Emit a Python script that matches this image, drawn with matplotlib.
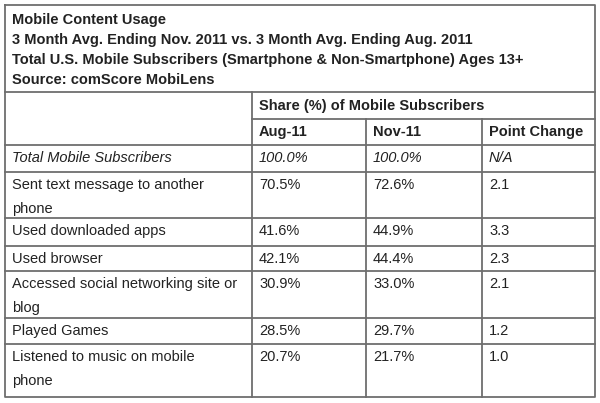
import matplotlib
matplotlib.use("Agg")
import matplotlib.pyplot as plt

title_lines = ["Mobile Content Usage",
               "3 Month Avg. Ending Nov. 2011 vs. 3 Month Avg. Ending Aug. 2011",
               "Total U.S. Mobile Subscribers (Smartphone & Non-Smartphone) Ages 13+",
               "Source: comScore MobiLens"]
group_header = "Share (%) of Mobile Subscribers"
col_headers = ["Aug-11", "Nov-11", "Point Change"]
categories = ["Total Mobile Subscribers", "Sent text message to another\nphone",
              "Used downloaded apps", "Used browser",
              "Accessed social networking site or\nblog", "Played Games",
              "Listened to music on mobile\nphone"]
aug = ["100.0%", "70.5%", "41.6%", "42.1%", "30.9%", "28.5%", "20.7%"]
nov = ["100.0%", "72.6%", "44.9%", "44.4%", "33.0%", "29.7%", "21.7%"]
change = ["N/A", "2.1", "3.3", "2.3", "2.1", "1.2", "1.0"]

fig = plt.figure(figsize=(6, 4.03), dpi=100)
ax = fig.add_axes([0, 0, 1, 1])
ax.set_xlim(0, 600); ax.set_ylim(403, 0); ax.axis("off")
fn = "Liberation Sans"; fs = 10.5; lc = "#6e6e6e"; tc = "#222222"

L, R, T, B = 5, 595, 5, 397
cols = [L, 252, 366, 482, R]
tops = [145, 172, 218, 246, 271, 318, 344]
lw = 1.3
ax.plot([L, R, R, L, L], [T, T, B, B, T], color=lc, lw=lw)
ax.plot([L, R], [92, 92], color=lc, lw=lw)
ax.plot([cols[1], R], [119, 119], color=lc, lw=lw)
for y in tops:
    ax.plot([L, R], [y, y], color=lc, lw=lw)
ax.plot([cols[1], cols[1]], [92, B], color=lc, lw=lw)
for x in cols[2:4]:
    ax.plot([x, x], [119, B], color=lc, lw=lw)

for i, t in enumerate(title_lines):
    ax.text(12, 20 + i * 20, t, fontfamily=fn, fontsize=fs, weight="bold", color=tc, va="center")
ax.text(cols[1] + 7, 106, group_header, fontfamily=fn, fontsize=fs, weight="bold", color=tc, va="center")
for j, h in enumerate(col_headers):
    ax.text(cols[j + 1] + 7, 132, h, fontfamily=fn, fontsize=fs, weight="bold", color=tc, va="center")

for i, cat in enumerate(categories):
    y0 = tops[i] + 13
    style = "italic" if i == 0 else "normal"
    for k, ln in enumerate(cat.split("\n")):
        ax.text(12, y0 + k * 24, ln, fontfamily=fn, fontsize=fs, color=tc, va="center", style=style)
    for j, v in enumerate([aug[i], nov[i], change[i]]):
        ax.text(cols[j + 1] + 7, y0, v, fontfamily=fn, fontsize=fs, color=tc, va="center", style=style)

fig.savefig("out.png", dpi=100, facecolor="white")
